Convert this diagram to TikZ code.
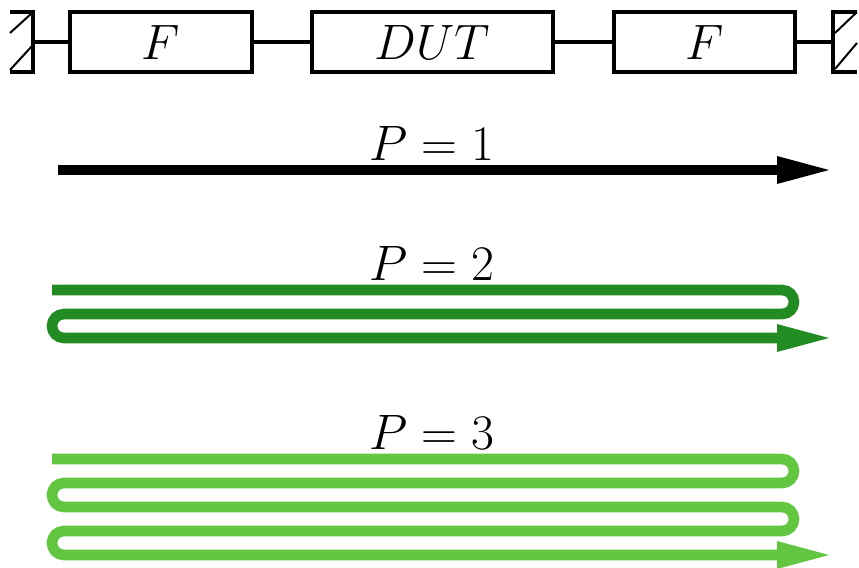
\documentclass[tikz,border=0pt]{standalone}
\usetikzlibrary{arrows.meta}
\definecolor{pathtwo}{RGB}{34,139,34}
\definecolor{paththree}{RGB}{98,198,64}
\tikzset{
  lbl/.style={font=\fontsize{24.88}{30}\selectfont, inner sep=0pt},
  blockbox/.style={draw, line width=1.8pt, minimum height=30pt, inner sep=0pt},
  wire/.style={line width=1.8pt},
  hatch/.style={line width=1pt},
  beam/.style={line width=5.3pt, rounded corners=6pt,
    -{Triangle[length=26pt,width=14pt,line width=0pt]}},
}
\begin{document}
\begin{tikzpicture}[x=0.5pt,y=-0.5pt]
\useasboundingbox (0,0) rectangle (859,568);

% measurement chain: wall - filter - DUT - filter - wall
\node[blockbox, minimum width=91pt] (f1) at (161,42) {};
\node[lbl] at (f1) {$F$};
\node[blockbox, minimum width=120.5pt] (dut) at (432.5,42) {};
\node[lbl] at (dut) {$DUT$};
\node[blockbox, minimum width=90.5pt] (f2) at (704.5,42) {};
\node[lbl] at (f2) {$F$};

\coordinate (wl) at (33,42);
\coordinate (wr) at (833,42);

% left wall
\draw[wire, line cap=butt] (10,12) -- (33,12) -- (33,72) -- (10,72);
\draw[hatch] (10,33) -- (32,13);
\draw[hatch] (10,70) -- (32,46);
% right wall
\draw[wire] (857,12) -- (833,12) -- (833,72) -- (857,72);
\draw[hatch] (835,33) -- (857,12);
\draw[hatch] (835,69) -- (857,43);

\draw[wire] (wl) -- (f1.west);
\draw[wire] (f1.east) -- (dut.west);
\draw[wire] (dut.east) -- (f2.west);
\draw[wire] (f2.east) -- (wr);

% P = 1
\node[lbl, anchor=base] (p1) at (432,160) {$P=1$};
\coordinate (a1s) at (58,170);
\coordinate (a1e) at (829,170);
\draw[beam] (a1s) -- (a1e);

% P = 2
\node[lbl, anchor=base] (p2) at (432,280) {$P=2$};
\draw[beam, pathtwo] (52,290) -- (794,290) -- (794,314) -- (52,314)
  -- (52,338) -- (829,338);

% P = 3
\node[lbl, anchor=base] (p3) at (432,449) {$P=3$};
\draw[beam, paththree] (52,459) -- (794,459) -- (794,483) -- (52,483)
  -- (52,507) -- (794,507) -- (794,531) -- (52,531)
  -- (52,555) -- (829,555);
\end{tikzpicture}
\end{document}
